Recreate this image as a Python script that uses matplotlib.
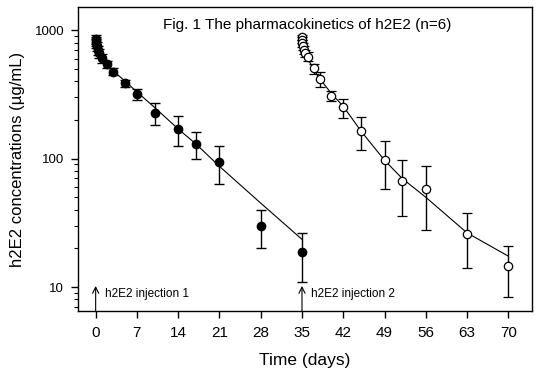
import matplotlib
matplotlib.use("Agg")
import matplotlib.pyplot as plt
from matplotlib.ticker import LogLocator, FixedLocator, NullFormatter

plt.rcParams['font.family'] = ['Liberation Sans', 'DejaVu Sans']

# observed means +/- SD, injection 1 (day 0)
t1 = [0.02, 0.04, 0.08, 0.17, 0.33, 0.5, 1, 2, 3, 5, 7, 10, 14, 17, 21, 28, 35]
c1 = [850, 820, 790, 750, 700, 660, 603, 544, 474, 385, 318, 227, 169, 130, 94, 30, 18.6]
sd1 = [70, 70, 65, 60, 55, 50, 45, 35, 30, 25, 33, 43, 44, 30, 31, 10, 7.7]

# injection 2 (day 35)
t2 = [35.02, 35.04, 35.08, 35.17, 35.33, 35.5, 36, 37, 38, 40, 42, 45, 49, 52, 56, 63, 70]
c2 = [880, 840, 790, 750, 700, 660, 620, 503, 416, 306, 250, 164, 97, 67, 58, 25.7, 14.6]
sd2 = [40, 45, 50, 50, 50, 45, 50, 45, 57, 27, 42, 48, 39, 31, 30, 11.7, 6.2]

# fitted curves
fit1_t = [0, 0.5, 1, 2, 3, 5, 7, 10, 14, 17, 21, 28, 35]
fit1_c = [850, 690, 610, 535, 480, 400, 330, 250, 170, 130, 87, 45, 23.5]
fit2_t = [35, 35.5, 36, 37, 38, 40, 42, 45, 49, 52, 56, 63, 70]
fit2_c = [880, 700, 600, 490, 420, 320, 255, 164, 97, 70, 50, 26.4, 17.4]

x_ticks = [0, 7, 14, 21, 28, 35, 42, 49, 56, 63, 70]
injections = [(0, "h2E2 injection 1"), (35, "h2E2 injection 2")]

fig = plt.figure(figsize=(5.4, 3.73), dpi=100)
ax = fig.add_axes([0.1444, 0.166, 0.8406, 0.815])

ax.plot(fit1_t, fit1_c, color='black', lw=0.8, zorder=2)
ax.plot(fit2_t, fit2_c, color='black', lw=0.8, zorder=2)

ax.errorbar(t1, c1, yerr=sd1, fmt='o', color='black', mfc='black', mec='black',
            ms=6, elinewidth=1, capsize=3.3, capthick=1, zorder=3)
ax.errorbar(t2, c2, yerr=sd2, fmt='o', color='black', mfc='white', mec='black',
            ms=6, mew=0.9, elinewidth=1, capsize=3.3, capthick=1, zorder=3)

ax.set_yscale('log')
ax.set_ylim(6.5, 1510)
ax.set_xlim(-3, 74)

ax.xaxis.set_major_locator(FixedLocator(x_ticks))
ax.set_xticklabels([str(v) for v in x_ticks])
ax.yaxis.set_major_locator(FixedLocator([10, 100, 1000]))
ax.set_yticklabels(['10', '100', '1000'])
ax.yaxis.set_minor_locator(LogLocator(base=10, subs=range(2, 10)))
ax.yaxis.set_minor_formatter(NullFormatter())

ax.tick_params(axis='both', which='major', direction='out', length=5, width=1)
ax.tick_params(axis='y', which='major', labelsize=9.5, pad=5)
ax.tick_params(axis='y', which='minor', direction='out', length=3, width=0.8)
ax.tick_params(axis='x', which='major', labelsize=11, pad=6)

for s in ax.spines.values():
    s.set_linewidth(1)

for x0, label in injections:
    ax.annotate('', xy=(x0, 10.2), xytext=(x0, 6.5),
                arrowprops=dict(arrowstyle='->', color='black', lw=0.8,
                                mutation_scale=11, shrinkA=0, shrinkB=0))
    ax.text(x0 + 1.5, 8.8, label, fontsize=8.5, va='center', ha='left')

ax.text(0.505, 0.965, "Fig. 1 The pharmacokinetics of h2E2 (n=6)", transform=ax.transAxes,
        fontsize=11, ha='center', va='top')

ax.set_xlabel("Time (days)", fontsize=12.5, va='center')
ax.xaxis.set_label_coords(0.5, -0.161)
ax.set_ylabel("h2E2 concentrations (µg/mL)", fontsize=12, va='center')
ax.yaxis.set_label_coords(-0.134, 0.5)

fig.savefig("out.png", dpi=100)
